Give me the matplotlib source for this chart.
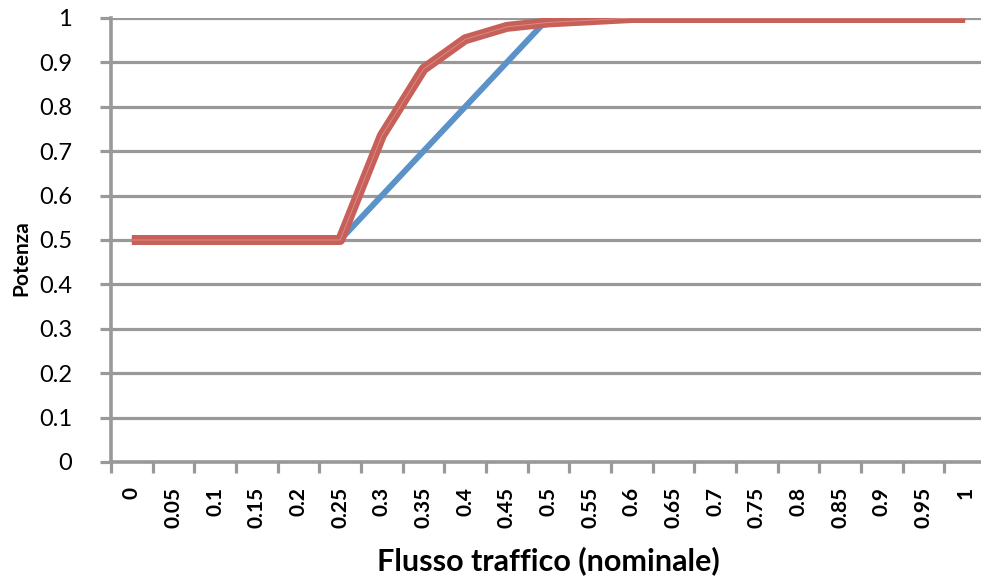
import matplotlib.pyplot as plt
import numpy as np

plt.rcParams['font.family'] = ['Lato', 'DejaVu Sans']

# traffic flow categories 0 .. 1 step 0.05
flusso = ['0', '0.05', '0.1', '0.15', '0.2', '0.25', '0.3', '0.35', '0.4', '0.45', '0.5',
          '0.55', '0.6', '0.65', '0.7', '0.75', '0.8', '0.85', '0.9', '0.95', '1']
lineare = [0.5, 0.5, 0.5, 0.5, 0.5, 0.5, 0.6, 0.7, 0.8, 0.9, 1.0,
           1.0, 1.0, 1.0, 1.0, 1.0, 1.0, 1.0, 1.0, 1.0, 1.0]
curva = [0.5, 0.5, 0.5, 0.5, 0.5, 0.5, 0.735, 0.885, 0.952, 0.98, 0.99,
         0.995, 1.0, 1.0, 1.0, 1.0, 1.0, 1.0, 1.0, 1.0, 1.0]
y_ticks = [0, 0.1, 0.2, 0.3, 0.4, 0.5, 0.6, 0.7, 0.8, 0.9, 1]
y_labels = ['0', '0.1', '0.2', '0.3', '0.4', '0.5', '0.6', '0.7', '0.8', '0.9', '1']

W, H = 981, 581
fig = plt.figure(figsize=(W / 100, H / 100), dpi=100)
# plot area runs a bit past the right border
ax = fig.add_axes([111 / W, 1 - 462 / H, (986 - 111) / W, (462 - 18) / H])

x = np.arange(len(flusso))
grey = '#999999'

ax.set_xlim(-0.5, len(flusso) - 0.5)
ax.set_ylim(0, 1)
ax.set_yticks(y_ticks)
ax.set_yticklabels(y_labels, fontsize=17)
ax.yaxis.grid(True, color=grey, linewidth=2.3)
ax.set_axisbelow(True)

ax.plot(x, lineare, color='#5B93C8', linewidth=4.3, solid_capstyle='butt', zorder=3)
ax.plot(x, curva, color='#C8605A', linewidth=7.2, solid_capstyle='butt', zorder=4)
ax.plot(x, curva, color='#E08F8A', linewidth=0.6, solid_capstyle='butt', zorder=5)

# category ticks sit between the labels
ax.set_xticks(np.arange(len(flusso) + 1) - 0.5, minor=False)
ax.set_xticklabels([])
ax.tick_params(axis='x', which='major', length=8, width=2.3, color=grey)
ax.set_xticks(x, minor=True)
ax.set_xticklabels(flusso, minor=True, rotation=90, fontsize=15, fontweight='bold',
                   va='top', ha='center')
ax.tick_params(axis='x', which='minor', length=0, pad=18)
ax.tick_params(axis='y', length=8, width=2.3, color=grey, pad=20)

for side in ['top', 'right']:
    ax.spines[side].set_visible(False)
for side in ['left', 'bottom']:
    ax.spines[side].set_color(grey)
    ax.spines[side].set_linewidth(2.6)

ax.set_xlabel('Flusso traffico (nominale)', fontsize=22, fontweight='bold')
ax.xaxis.set_label_coords((548 - 111) / (986 - 111), -(546 - 462) / (462 - 18))
ax.set_ylabel('Potenza', fontsize=15, fontweight='bold')
ax.yaxis.set_label_coords(-(111 - 31) / (986 - 111), (462 - 258) / (462 - 18))

fig.savefig('out.png', dpi=100)
